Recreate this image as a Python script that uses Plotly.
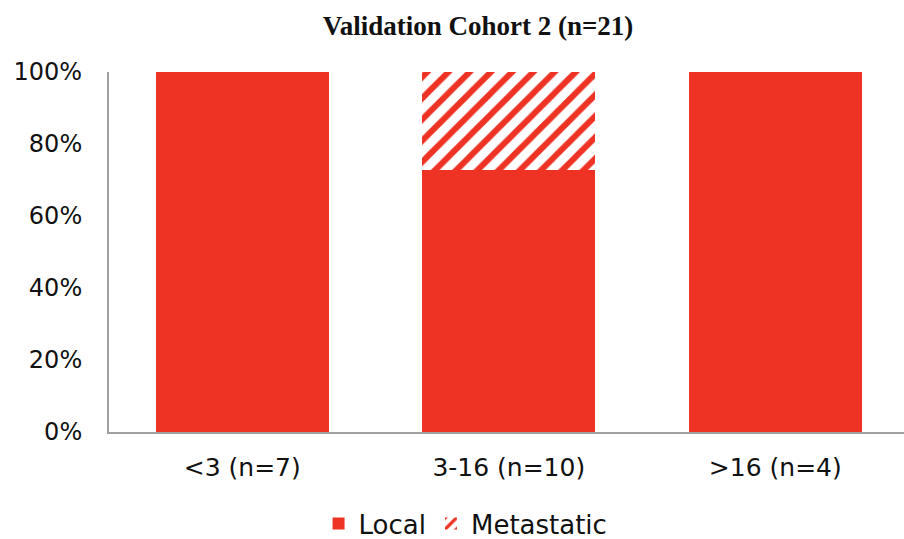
import plotly.graph_objects as go

categories = ["<3 (n=7)", "3-16 (n=10)", ">16 (n=4)"]
local_pct = [100, 72.7, 100]
metastatic_pct = [0, 27.3, 0]
y_ticks = [0, 20, 40, 60, 80, 100]
y_tick_labels = ["0%", "20%", "40%", "60%", "80%", "100%"]

RED = "#EE3224"
FONT = "DejaVu Sans, Liberation Sans, Arial, sans-serif"

fig = go.Figure()
fig.add_trace(go.Bar(
    x=categories, y=local_pct, name="Local",
    marker=dict(color=RED, line=dict(width=0)),
    width=0.65,
))
fig.add_trace(go.Bar(
    x=categories, y=metastatic_pct, name="Metastatic",
    marker=dict(color="white", line=dict(width=0),
                pattern=dict(shape="/", fgcolor=RED, bgcolor="white",
                             size=15, solidity=0.4, fillmode="replace")),
    width=0.65,
))

fig.update_layout(
    width=904, height=539,
    barmode="stack",
    plot_bgcolor="white", paper_bgcolor="white",
    margin=dict(l=109, r=0, t=72, b=107, autoexpand=False),
    font=dict(family=FONT, size=24, color="#111111"),
    title=dict(text="<b>Validation Cohort 2 (n=21)</b>",
               font=dict(family="Liberation Serif, Times New Roman, serif", size=27, color="#111111"),
               x=478/904, xanchor="center", xref="container",
               y=1 - 26/539, yanchor="middle", yref="container"),
    showlegend=True,
    legend=dict(orientation="h", x=0.515, xanchor="center", xref="container",
                y=1 - 500/539, yanchor="top", yref="container",
                font=dict(family=FONT, size=26), itemwidth=30, traceorder="normal",
                bgcolor="rgba(0,0,0,0)"),
    xaxis=dict(range=[-0.5, 2.483], showline=True, linecolor="#a0a0a0", linewidth=2,
               showgrid=False, ticks="", ticklabelstandoff=12,
               tickfont=dict(family=FONT, size=25)),
    yaxis=dict(range=[0, 100], tickvals=y_ticks, ticktext=y_tick_labels,
               showline=True, linecolor="#a0a0a0", linewidth=2,
               showgrid=False, zeroline=False, ticks="", ticklabelstandoff=20,
               tickfont=dict(family=FONT, size=24)),
)

fig.write_html("out.html")
